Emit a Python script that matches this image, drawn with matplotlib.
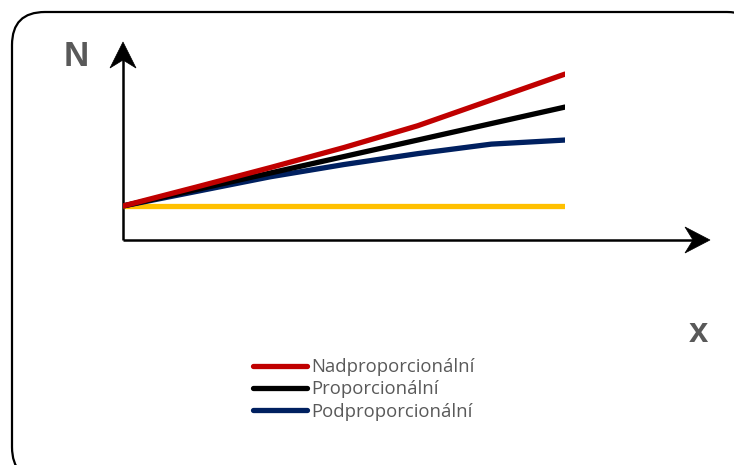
import matplotlib.pyplot as plt
from matplotlib.patches import FancyBboxPatch, Polygon

# data (N values, baseline N = 10)
x = [0, 1, 2, 3, 4, 5, 6]
nad = [10, 15.6, 21.3, 27.2, 33.6, 41.2, 48.8]
prop = [10, 14.85, 19.7, 24.55, 29.4, 34.25, 39.1]
pod = [10, 14.3, 18.6, 22.2, 25.4, 28.2, 29.4]
konst = [10, 10, 10, 10, 10, 10, 10]
labels = ['Nadproporcionální', 'Proporcionální', 'Podproporcionální']

W, H = 734, 465
fig = plt.figure(figsize=(W / 100, H / 100), dpi=100)

# background axes in pixel coords for frame, axis arrows and letters
bg = fig.add_axes([0, 0, 1, 1])
bg.set_xlim(0, W)
bg.set_ylim(H, 0)
bg.axis('off')

frame = FancyBboxPatch((12, 12), 748, 468, boxstyle='round,pad=0,rounding_size=33',
                       fc='white', ec='black', lw=1.6, clip_on=False)
bg.add_patch(frame)

# axes lines with stealth arrowheads
bg.plot([123, 123], [240, 58], color='black', lw=1.8, solid_capstyle='butt')
bg.plot([123, 698], [240, 240], color='black', lw=1.8, solid_capstyle='butt')
bg.add_patch(Polygon([(123, 42), (110, 68), (123, 60), (136, 68)], closed=True, fc='black', ec='black', lw=0.5))
bg.add_patch(Polygon([(710, 240), (685, 227), (693, 240), (685, 253)], closed=True, fc='black', ec='black', lw=0.5))

bg.text(76, 56, 'N', fontsize=25, fontweight='bold', color='#595959',
        family='Liberation Sans', ha='center', va='center')
bg.text(698, 332, 'x', fontsize=25, fontweight='bold', color='#595959',
        family='Liberation Sans', ha='center', va='center')

# data axes: x 0..6 -> px 123..565, N 0 at px 240, 3.4 px per unit
ax = fig.add_axes([123 / W, (H - 240) / H, 442 / W, 204 / H])
ax.set_xlim(0, 6)
ax.set_ylim(0, 60)
ax.axis('off')

lw = 3.8
ax.plot(x, konst, color='#FFC000', lw=lw, solid_capstyle='round', label='_nolegend_')
ax.plot(x, pod, color='#002060', lw=lw, solid_capstyle='round', label=labels[2])
ax.plot(x, prop, color='black', lw=lw, solid_capstyle='round', label=labels[1])
ax.plot(x, nad, color='#C00000', lw=lw, solid_capstyle='round', label=labels[0])

handles, labs = ax.get_legend_handles_labels()
order = [2, 1, 0]
fs = 13.3
leg = fig.legend([handles[i] for i in order], [labs[i] for i in order],
                 loc='upper left', bbox_to_anchor=(253 / W, 1 - 358 / H),
                 frameon=False, labelcolor='#595959',
                 prop={'family': 'Open Sans', 'size': fs},
                 handlelength=2.95, handletextpad=0.2, labelspacing=0.24,
                 borderpad=0, borderaxespad=0)

fig.savefig('out.png', dpi=100)
